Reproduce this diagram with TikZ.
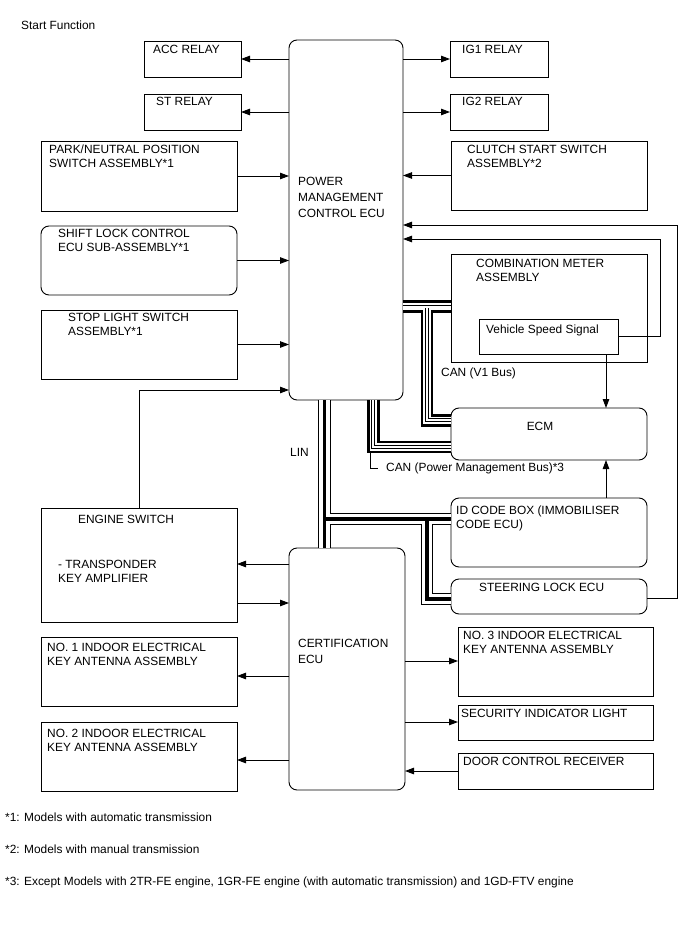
\documentclass[tikz,border=0pt]{standalone}
\usepackage{fontspec}
\setmainfont{Liberation Sans}
\usetikzlibrary{arrows.meta,calc}
\newcommand\mkbox[6]{\node[#2, minimum width={#5-#3}, minimum height={#6-#4}] (#1) at (#3,#4) {};}
\begin{document}
\begin{tikzpicture}[x=1pt,y=-1pt,
  font=\fontsize{11.9}{14}\selectfont,
  bx/.style={draw, line width=0.9pt, inner sep=0pt, outer sep=0pt, anchor=north west},
  rbx/.style={bx, rounded corners=8pt},
  lbl/.style={inner sep=0pt, anchor=north west, align=left},
  ln/.style={line width=0.9pt},
  arr/.style={ln, -{Triangle[length=9pt,width=6.5pt]}},
  canA/.style={line width=12.4pt, line join=miter},
  canB/.style={line width=7.6pt, white, line join=miter},
  canC/.style={line width=3.8pt, line join=miter},
  canD/.style={line width=2.0pt, white, line join=miter},
  linA/.style={line width=12.6pt, line join=miter},
  linB/.style={line width=10.8pt, white, line join=miter},
  linC/.style={line width=3.3pt, line join=miter},
]
\useasboundingbox (0,0) rectangle (688,949);
\fill[white] (0,0) rectangle (688,949);

\node[lbl] (title) at (21,21) {Start Function};

\mkbox{acc}{bx}{144}{41}{241}{77}
\mkbox{st}{bx}{144}{94}{241}{130}
\mkbox{pmc}{rbx}{289}{40}{403}{400}
\mkbox{ig1}{bx}{450}{41}{548}{77}
\mkbox{ig2}{bx}{450}{94}{548}{130}
\mkbox{park}{bx}{41}{141}{237}{211}
\mkbox{shift}{rbx}{41}{226}{237}{295}
\mkbox{stop}{bx}{41}{310}{237}{379}
\mkbox{clutch}{bx}{451}{141}{647}{210}
\mkbox{comb}{bx}{451}{254}{647}{362}
\mkbox{vss}{bx}{479}{319}{618}{354}
\mkbox{ecm}{rbx}{451}{408}{647}{460}
\mkbox{id}{rbx}{451}{498}{647}{567}
\mkbox{sl}{rbx}{451}{579}{647}{614}
\mkbox{es}{bx}{41}{508}{237}{622}
\mkbox{cert}{rbx}{289}{548}{405}{790}
\mkbox{no1}{bx}{41}{637}{237}{706}
\mkbox{no2}{bx}{41}{722}{237}{791}
\mkbox{no3}{bx}{458}{627}{653}{696}
\mkbox{sec}{bx}{458}{705}{653}{740}
\mkbox{dcr}{bx}{458}{753}{653}{789}

\node[lbl] (acc-t) at (153,45) {ACC RELAY};
\node[lbl] (st-t) at (156,97) {ST RELAY};
\node[lbl] (ig1-t) at (462,45) {IG1 RELAY};
\node[lbl] (ig2-t) at (462,97) {IG2 RELAY};
\node[lbl, font=\fontsize{11.9}{16}\selectfont] (pmc-t) at (298,177) {POWER\\MANAGEMENT\\CONTROL ECU};
\node[lbl] (park-t) at (49,145) {PARK/NEUTRAL POSITION\\SWITCH ASSEMBLY*1};
\node[lbl] (shift-t) at (58,229) {SHIFT LOCK CONTROL\\ECU SUB-ASSEMBLY*1};
\node[lbl] (stop-t) at (68,313) {STOP LIGHT SWITCH\\ASSEMBLY*1};
\node[lbl] (clutch-t) at (467,145) {CLUTCH START SWITCH\\ASSEMBLY*2};
\node[lbl] (comb-t) at (476,259) {COMBINATION METER\\ASSEMBLY};
\node[lbl] (vss-t) at (486,325) {Vehicle Speed Signal};
\node[lbl] (v1-t) at (441,368) {CAN (V1 Bus)};
\node[inner sep=0pt] (ecm-t) at (540,426) {ECM};
\node[lbl] (pm-t) at (386,463) {CAN (Power Management Bus)*3};
\node[lbl] (lin-t) at (290,448) {LIN};
\node[lbl] (id-t) at (456,506) {ID CODE BOX (IMMOBILISER\\CODE ECU)};
\node[lbl] (sl-t) at (479,583) {STEERING LOCK ECU};
\node[lbl] (es-t1) at (78,515) {ENGINE SWITCH};
\node[lbl] (es-t2) at (58,560) {- TRANSPONDER\\KEY AMPLIFIER};
\node[lbl, font=\fontsize{11.9}{16}\selectfont] (cert-t) at (298,639) {CERTIFICATION\\ECU};
\node[lbl] (no1-t) at (47,643) {NO. 1 INDOOR ELECTRICAL\\KEY ANTENNA ASSEMBLY};
\node[lbl] (no2-t) at (47,729) {NO. 2 INDOOR ELECTRICAL\\KEY ANTENNA ASSEMBLY};
\node[lbl] (no3-t) at (463,631) {NO. 3 INDOOR ELECTRICAL\\KEY ANTENNA ASSEMBLY};
\node[lbl] (sec-t) at (461,709) {SECURITY INDICATOR LIGHT};
\node[lbl] (dcr-t) at (463,757) {DOOR CONTROL RECEIVER};
\node[lbl] (fn1) at (5,813) {*1: Models with automatic transmission};
\node[lbl] (fn2) at (5,845) {*2: Models with manual transmission};
\node[lbl] (fn3) at (5,877) {*3: Except Models with 2TR-FE engine, 1GR-FE engine (with automatic transmission) and 1GD-FTV engine};

% arrows to / from power management ECU
\draw[arr] (pmc.west |- acc.east) -- (acc.east);
\draw[arr] (pmc.west |- st.east) -- (st.east);
\draw[arr] (pmc.east |- ig1.west) -- (ig1.west);
\draw[arr] (pmc.east |- ig2.west) -- (ig2.west);
\draw[arr] (park.east) -- (pmc.west |- park.east);
\draw[arr] (shift.east) -- (pmc.west |- shift.east);
\draw[arr] (stop.east) -- (pmc.west |- stop.east);
\draw[arr] (clutch.west) -- (pmc.east |- clutch.west);
\coordinate (fo) at (677,225);
\coordinate (fi) at (660,239);
\draw[arr] (sl.east |- 0,598) -| (fo) -- (pmc.east |- fo);
\draw[arr] (vss.east) -| (fi) -- (pmc.east |- fi);
\draw[arr] (vss.south -| 606,0) -- (ecm.north -| 606,0);
\draw[arr] (id.north -| 606,0) -- (ecm.south -| 606,0);
\coordinate (esc) at (139,390);
\draw[arr] (es.north -| esc) |- (pmc.west |- esc);
\draw[arr] (cert.west |- 0,564) -- (es.east |- 0,564);
\draw[arr] (es.east |- 0,603) -- (cert.west |- 0,603);
\draw[arr] (cert.west |- 0,676) -- (no1.east |- 0,676);
\draw[arr] (cert.west |- 0,760) -- (no2.east |- 0,760);
\draw[arr] (cert.east |- 0,661) -- (no3.west |- 0,661);
\draw[arr] (cert.east |- 0,722) -- (sec.west |- 0,722);
\draw[arr] (dcr.west |- 0,771) -- (cert.east |- 0,771);

% CAN buses (V1 and power management), drawn as layered bands
\coordinate (v1h) at (0,306.5);
\coordinate (v1v) at (426.8,306.5);
\coordinate (v1c) at (426.8,420.3);
\coordinate (pmv) at (373.3,0);
\coordinate (pmc2) at (373.3,447);
\foreach \s in {canA,canB,canC,canD}{
  \draw[\s] (pmc.east |- v1h) -- (comb.west |- v1h);
  \draw[\s] (v1v) -- (v1c) -- (ecm.west |- v1c);
  \draw[\s] (pmv |- pmc.south) -- (pmc2) -- (ecm.west |- pmc2);
}
\draw[line width=0.8pt] (370.7,453) |- (pm-t.west -| 378,0);

% LIN bus
\coordinate (la) at (324.4,519);
\coordinate (lb) at (427,519);
\coordinate (lc) at (427,599);
\foreach \s in {linA,linB,linC}{
  \draw[\s] (la |- pmc.south) -- (la |- cert.north);
  \draw[\s] (la) -- (id.west |- la);
  \draw[\s] (lb) -- (lc) -- (sl.west |- lc);
}
\end{tikzpicture}
\end{document}
